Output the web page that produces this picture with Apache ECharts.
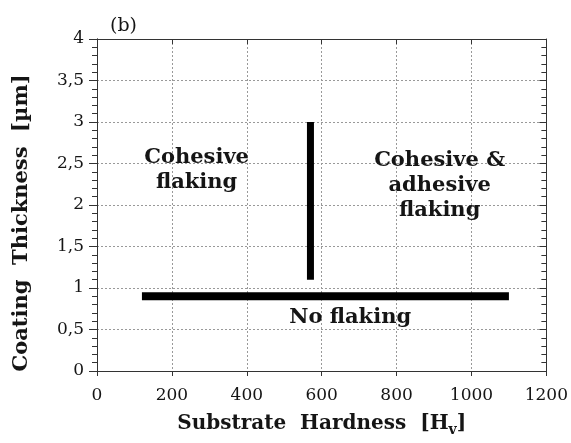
<!DOCTYPE html>
<html>
<head>
<meta charset="utf-8">
<script src="https://cdn.jsdelivr.net/npm/echarts@6/dist/echarts.min.js"></script>
<style>html,body{margin:0;padding:0;background:#fff}#c{width:571px;height:443px}</style>
</head>
<body>
<div id="c"></div>
<script>
// Data
const xTicks = [0, 200, 400, 600, 800, 1000, 1200];
const yTicks = [0, 0.5, 1, 1.5, 2, 2.5, 3, 3.5, 4];
const verticalBoundary = [[570, 1.1], [570, 3.0]];
const horizontalBoundary = [[120, 0.9], [1100, 0.9]];
const regionLabels = ['Cohesive\nflaking', 'Cohesive &\nadhesive\nflaking', 'No flaking'];
const regionX = [266, 915, 676];
const regionY = [2.42, 2.24, 0.65];

const serif = '"DejaVu Serif", serif';
const axisColor = '#333';
const textColor = '#151515';
const chart = echarts.init(document.getElementById('c'));

const fmtY = v => String(v).replace('.', ',');
const fmtX = v => String(v);

const baseX = {
  type: 'value', min: xTicks[0], max: xTicks[xTicks.length - 1], interval: 200,
  axisLine: {show: true, onZero: false, lineStyle: {color: axisColor, width: 1}},
};
const baseY = {
  type: 'value', min: yTicks[0], max: yTicks[yTicks.length - 1], interval: 0.5,
  axisLine: {show: true, onZero: false, lineStyle: {color: axisColor, width: 1}},
};

chart.setOption({
  animation: false,
  backgroundColor: '#fff',
  grid: {left: 97, right: 23, top: 39, bottom: 72},
  title: {text: '(b)', left: 105, top: 12, textStyle: {fontFamily: serif, fontWeight: 'normal', fontSize: 19, color: textColor}},
  graphic: [{
    type: 'text', x: 22, y: 223, rotation: Math.PI / 2, silent: true,
    style: {text: 'Coating  Thickness  [µm]', fontFamily: serif, fontWeight: 'bold', fontSize: 21,
      fill: textColor, align: 'center', verticalAlign: 'middle'}
  }],
  xAxis: [
    Object.assign({}, baseX, {
      position: 'bottom',
      name: '{a|Substrate  Hardness  [H}{s|v}{a|]}',
      nameLocation: 'middle', nameGap: 40,
      nameTextStyle: {
        rich: {a: {fontFamily: serif, fontWeight: 'bold', fontSize: 20, color: textColor},
               s: {fontFamily: serif, fontWeight: 'bold', fontSize: 14, color: textColor, padding: [12, 0, 0, 0]}}},
      axisTick: {show: true, length: 5, lineStyle: {color: axisColor}},
      axisLabel: {fontFamily: serif, fontSize: 17, color: textColor, margin: 16, formatter: fmtX},
      splitLine: {show: true, lineStyle: {color: '#999', type: [2, 2], width: 1}}
    }),
    Object.assign({}, baseX, {
      position: 'top',
      axisTick: {show: true, inside: true, length: 5, lineStyle: {color: axisColor}},
      axisLabel: {show: false},
      splitLine: {show: false}
    })
  ],
  yAxis: [
    Object.assign({}, baseY, {
      position: 'left',
      axisTick: {show: true, length: 8, lineStyle: {color: axisColor}},
      axisLabel: {fontFamily: serif, fontSize: 17, color: textColor, margin: 13, formatter: fmtY},
      splitLine: {show: true, lineStyle: {color: '#999', type: [2, 2], width: 1}}
    }),
    Object.assign({}, baseY, {
      position: 'left',
      axisTick: {show: false},
      minorTick: {show: true, splitNumber: 5, length: 5, lineStyle: {color: axisColor}},
      axisLabel: {show: false},
      splitLine: {show: false}
    }),
    Object.assign({}, baseY, {
      position: 'right',
      axisTick: {show: true, inside: true, length: 7, lineStyle: {color: axisColor}},
      minorTick: {show: true, splitNumber: 5, length: 5, lineStyle: {color: axisColor}},
      axisLabel: {show: false},
      splitLine: {show: false}
    })
  ],
  series: [
    {type: 'line', data: verticalBoundary, symbol: 'none', lineStyle: {color: '#000', width: 7}, silent: true},
    {type: 'line', data: horizontalBoundary, symbol: 'none', lineStyle: {color: '#000', width: 8}, silent: true},
    {type: 'scatter', symbolSize: 0, silent: true, itemStyle: {opacity: 1},
      data: regionLabels.map((t, i) => ({value: [regionX[i], regionY[i]], name: t})),
      label: {show: true, position: 'inside', formatter: p => p.name,
        fontFamily: serif, fontWeight: 'bold', fontSize: 21, lineHeight: 25, color: textColor, align: 'center'}}
  ]
});
</script>
</body>
</html>
